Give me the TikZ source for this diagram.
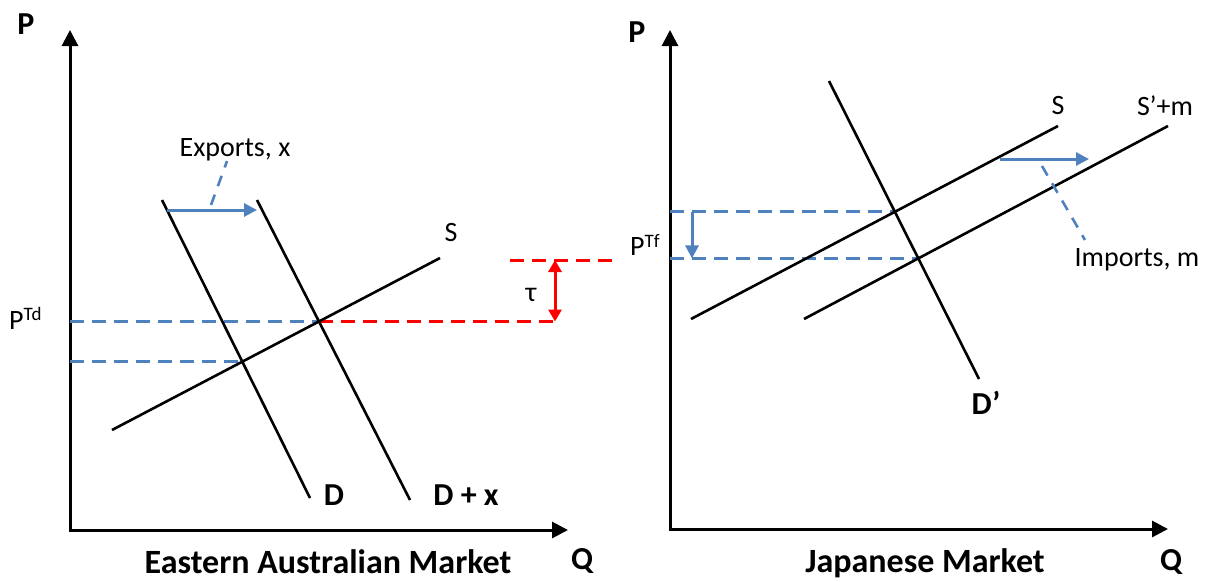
\documentclass[tikz,border=0pt]{standalone}
\usepackage{fontspec}
\setmainfont{Carlito}
\usetikzlibrary{arrows.meta}
\definecolor{blu}{HTML}{4F81BD}
\definecolor{rd}{HTML}{FF0000}
\tikzset{
  axisline/.style={line width=3pt, line join=miter, {Triangle[width=16pt,length=16pt]}-{Triangle[width=16pt,length=16pt]}},
  curve/.style={line width=2.6pt, black},
  bdash/.style={line width=3pt, blu, dash pattern=on 14pt off 8pt},
  lead/.style={line width=2.6pt, blu, dash pattern=on 11pt off 9pt},
  rdash/.style={line width=3pt, rd, dash pattern=on 14pt off 8pt},
  barrow/.style={line width=3pt, blu, -{Triangle[width=13pt,length=13pt]}},
  rarrow/.style={line width=3pt, rd, {Triangle[width=13pt,length=12pt]}-{Triangle[width=13pt,length=12pt]}},
  boldlbl/.style={font=\fontsize{32}{34}\selectfont\bfseries, inner sep=0pt},
  titlelbl/.style={font=\fontsize{34}{36}\selectfont\bfseries, inner sep=0pt},
  lbl/.style={font=\fontsize{28}{30}\selectfont, inner sep=0pt},
  suplbl/.style={font=\fontsize{28}{30}\selectfont, inner sep=0pt},
}
\newcommand{\supx}[1]{\raisebox{0.32em}{\fontsize{19}{20}\selectfont #1}}
\begin{document}
\begin{tikzpicture}[x=1pt,y=-1pt]
\useasboundingbox (0,0) rectangle (1207,581);
% ---------- left panel ----------
\coordinate (Y1) at (70,30);
\coordinate (O1) at (70,530);
\coordinate (X1) at (568,530);
\draw[axisline] (Y1) -- (O1) -- (X1);
\coordinate (S1a) at (112,430);
\coordinate (S1b) at (440,258);
\coordinate (D1a) at (162,200);
\coordinate (D1b) at (310,498);
\coordinate (Dx1a) at (257,200);
\coordinate (Dx1b) at (410,500);
\coordinate (E1) at (intersection of S1a--S1b and Dx1a--Dx1b);
\coordinate (E0) at (intersection of S1a--S1b and D1a--D1b);
\coordinate (R1) at (555,0 |- E1);
\coordinate (R1t) at (555,260);
\coordinate (Ru1) at (510,260);
\coordinate (Ru2) at (614,260);
\draw[bdash] (E1 -| O1) -- (E1);
\draw[bdash] (E0 -| O1) -- (E0);
\draw[rdash] (E1) -- (R1);
\draw[rdash] (Ru1) -- (Ru2);
\draw[rarrow] (R1t) -- (R1);
\draw[curve] (S1a) -- (S1b);
\draw[curve] (D1a) -- (D1b);
\draw[curve] (Dx1a) -- (Dx1b);
\coordinate (Ex1) at (167,210);
\coordinate (Ex2) at (257,210);
\draw[barrow] (Ex1) -- (Ex2);
\coordinate (L1a) at (211,205);
\coordinate (L1b) at (227,161);
\draw[lead] (L1a) -- (L1b);
\node[boldlbl] (P1) at (26,24) {P};
\node[boldlbl] (Q1) at (582,561) {Q};
\node[titlelbl] (T1) at (328,562) {Eastern Australian Market};
\node[lbl] (S1l) at (451,233) {S};
\node[boldlbl] (D1l) at (334,495) {D};
\node[boldlbl] (Dx1l) at (466,495) {D + x};
\node[lbl] (Exl) at (235,150) {Exports, x};
\node[suplbl, anchor=west] (PTd) at (9,318) {P\supx{Td}};
\node[lbl] (tau) at (531,295) {τ};
% ---------- right panel ----------
\coordinate (Y2) at (670,30);
\coordinate (O2) at (670,529);
\coordinate (X2) at (1168,529);
\draw[axisline] (Y2) -- (O2) -- (X2);
\coordinate (S2a) at (691,319);
\coordinate (S2b) at (1058,126);
\coordinate (Sm2a) at (804,319);
\coordinate (Sm2b) at (1168,126);
\coordinate (D2a) at (829,81);
\coordinate (D2b) at (979,379);
\coordinate (E2) at (intersection of S2a--S2b and D2a--D2b);
\coordinate (E3) at (intersection of Sm2a--Sm2b and D2a--D2b);
\draw[bdash] (E2 -| O2) -- (E2);
\draw[bdash] (E3 -| O2) -- (E3);
\coordinate (Ad1) at (692,0 |- E2);
\coordinate (Ad2) at (692,0 |- E3);
\draw[barrow] (Ad1) -- (Ad2);
\draw[curve] (S2a) -- (S2b);
\draw[curve] (Sm2a) -- (Sm2b);
\draw[curve] (D2a) -- (D2b);
\coordinate (Im1) at (1000,159);
\coordinate (Im2) at (1089,159);
\draw[barrow] (Im1) -- (Im2);
\coordinate (L2a) at (1042,166);
\coordinate (L2b) at (1085,240);
\draw[lead] (L2a) -- (L2b);
\node[boldlbl] (P2) at (637,32) {P};
\node[boldlbl] (Q2) at (1171,562) {Q};
\node[titlelbl] (T2) at (925,563) {Japanese Market};
\node[lbl] (S2l) at (1058,106) {S};
\node[lbl] (Sm2l) at (1165,106) {S’+m};
\node[lbl] (Iml) at (1137,260) {Imports, m};
\node[suplbl] (PTf) at (645,245) {P\supx{Tf}};
\node[boldlbl] (D2l) at (986,403) {D’};
\end{tikzpicture}
\end{document}
